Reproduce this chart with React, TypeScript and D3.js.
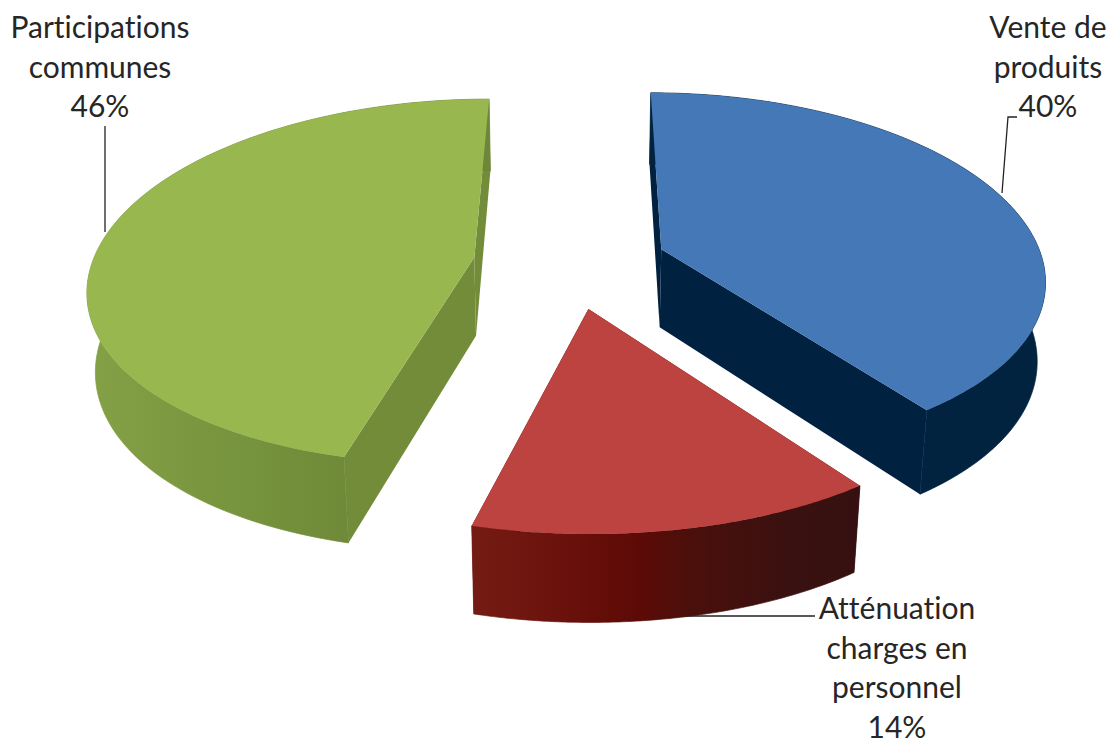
import React from "react";
import * as d3 from "d3";

const categories = ["Vente de produits", "Atténuation charges en personnel", "Participations communes"];
const values = [40, 14, 46];
const labelLines = [["Vente de", "produits", "40%"], ["Atténuation", "charges en", "personnel", "14%"], ["Participations", "communes", "46%"]];
const labelX = [1048, 897, 100];
const labelTop = [38, 619, 38];
const topColors = ["#4478b6", "#bd4340", "#98b84f"];
const wallColors = ["#002140", "#5f0a05", "#738c3a"];
const rimStops = [
  [[0, "#022340"], [1, "#022340"]],
  [[0, "#741c14"], [0.2, "#6d130d"], [0.42, "#5e0a06"], [0.55, "#4c0f0b"], [0.8, "#3a1110"], [1, "#361010"]],
  [[0, "#84a146"], [0.4, "#76933d"], [0.8, "#6a8436"], [1, "#6c8738"]],
];
const leaders = [
  [[1002, 193], [1008, 117], [1017, 117]],
  [[672, 616], [815, 616]],
  [[105, 232], [105, 126]],
];

const W = 1110, H = 740;
const cx = 570, cy = 263, f = 388, g = 181, p = 0.135, q = 0.018, h = 80, explode = 0.25, squeeze = 0.008;
const extraDepth = 0.02, shear = 1.5;
const rotation = (0.05 * Math.PI) / 180;

function project(X: number, Y: number, z: number): [number, number] {
  const w = 1 + p * Y + q * z;
  const xw = X / (w * (1 + extraDepth * Y));
  return [cx + shear * Y + f * xw * (1 - squeeze * xw * xw), cy + (-g * Y + h * z) / w];
}

const pieGen = d3.pie<number>().sort(null).startAngle(rotation).endAngle(2 * Math.PI + rotation);
const arcs = pieGen(values);
const line = d3.line();

function pt(a: any, angle: number | null, z: number): [number, number] {
  const mid = (a.startAngle + a.endAngle) / 2;
  const ox = explode * Math.sin(mid), oy = explode * Math.cos(mid);
  if (angle === null) return project(ox, oy, z);
  return project(ox + Math.sin(angle), oy + Math.cos(angle), z);
}

export default function App() {
  const slices = arcs.map((a, i) => {
    const angles = d3.range(0, 121).map((k) => a.startAngle + ((a.endAngle - a.startAngle) * k) / 120);
    const topArc = angles.map((t) => pt(a, t, 0));
    const botArc = angles.map((t) => pt(a, t, 1));
    const apexT = pt(a, null, 0), apexB = pt(a, null, 1);
    const face = line([apexT, ...topArc])! + "Z";
    const rim = line([...topArc, ...botArc.slice().reverse()])! + "Z";
    const wallA = line([apexT, apexB, botArc[0], topArc[0]])! + "Z";
    const wallB = line([apexT, apexB, botArc[120], topArc[120]])! + "Z";
    const xs = botArc.concat(topArc).map((d) => d[0]);
    return { i, face, rim, wallA, wallB, x0: d3.min(xs)!, x1: d3.max(xs)! };
  });
  return (
    <svg width={W} height={H} viewBox={`0 0 ${W} ${H}`} style={{ position: "absolute", left: 0, top: 0, background: "#fff" }}>
      <defs>
        {slices.map((s) => (
          <linearGradient key={s.i} id={`rim${s.i}`} gradientUnits="userSpaceOnUse" x1={s.x0} x2={s.x1} y1={0} y2={0}>
            {rimStops[s.i].map((st, k) => (
              <stop key={k} offset={st[0] as number} stopColor={st[1] as string} />
            ))}
          </linearGradient>
        ))}
      </defs>
      {leaders.map((l, i) => (
        <path key={i} d={line(l as [number, number][])!} fill="none" stroke="#222" strokeWidth={1.3} />
      ))}
      {slices.map((s) => (
        <g key={s.i}>
          <path d={s.wallA} fill={wallColors[s.i]} />
          <path d={s.wallB} fill={wallColors[s.i]} />
          <path d={s.rim} fill={`url(#rim${s.i})`} stroke={`url(#rim${s.i})`} strokeWidth={0.7} />
          <path d={s.face} fill={topColors[s.i]} />
        </g>
      ))}
      {labelLines.map((ls, i) => (
        <text key={categories[i]} fontFamily="Lato" fontSize={30} fill="#262626" textAnchor="middle" style={{ fontVariantLigatures: "none" }}>
          {ls.map((t, k) => (
            <tspan key={k} x={labelX[i]} y={labelTop[i] + k * 39.6}>{t}</tspan>
          ))}
        </text>
      ))}
    </svg>
  );
}
